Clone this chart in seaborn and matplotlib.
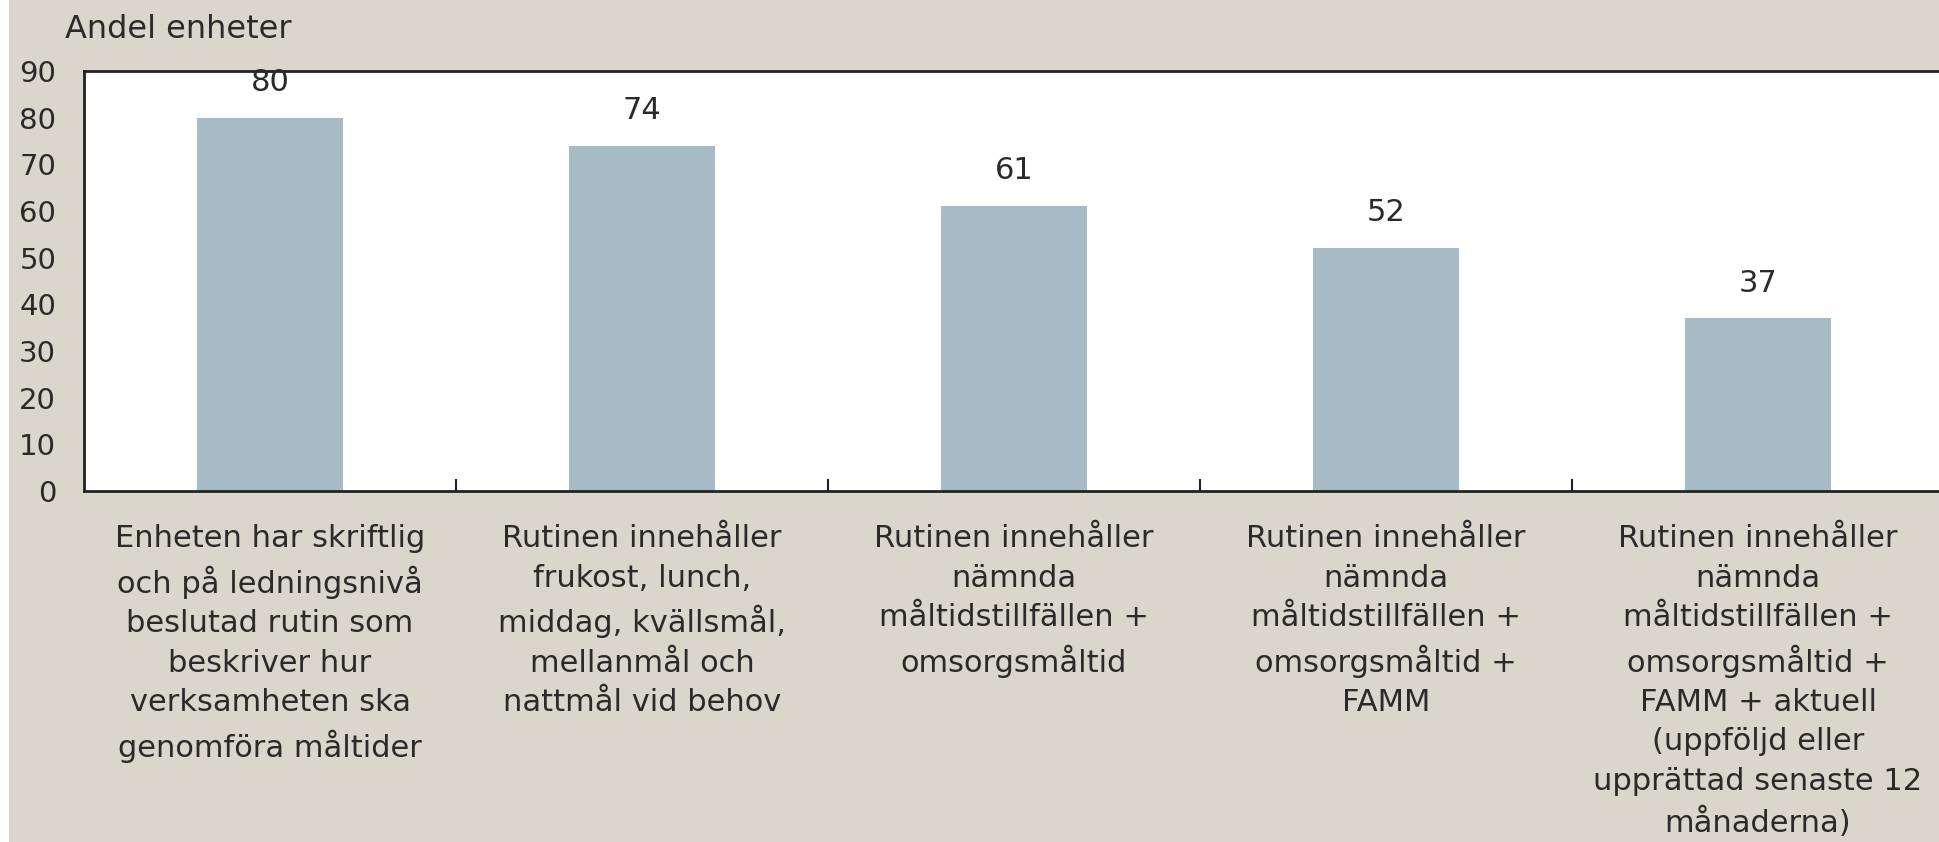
import matplotlib
matplotlib.use("Agg")
import matplotlib.pyplot as plt
import seaborn as sns
import pandas as pd
from matplotlib.patches import Rectangle
from matplotlib.ticker import FixedLocator

categories = [
    "Enheten har skriftlig\noch på ledningsnivå\nbeslutad rutin som\nbeskriver hur\nverksamheten ska\ngenomföra måltider",
    "Rutinen innehåller\nfrukost, lunch,\nmiddag, kvällsmål,\nmellanmål och\nnattmål vid behov",
    "Rutinen innehåller\nnämnda\nmåltidstillfällen +\nomsorgsmåltid",
    "Rutinen innehåller\nnämnda\nmåltidstillfällen +\nomsorgsmåltid +\nFAMM",
    "Rutinen innehåller\nnämnda\nmåltidstillfällen +\nomsorgsmåltid +\nFAMM + aktuell\n(uppföljd eller\nupprättad senaste 12\nmånaderna)",
]
values = [80, 74, 61, 52, 37]
y_ticks = [0, 10, 20, 30, 40, 50, 60, 70, 80, 90]
y_label = "Andel enheter"

BG = "#D9D7CB"
BAR = "#A7BBC6"
TXT = "#2a2a2a"
FS = 22

sns.set_theme(style="white")
plt.rcParams["font.family"] = ["DejaVu Sans"]

W, H = 1940, 842
fig = plt.figure(figsize=(W / 100, H / 100), dpi=100)
fig.patch.set_facecolor(BG)
fig.patches.append(Rectangle((0, 0), 9 / W, 1, transform=fig.transFigure,
                             facecolor="white", edgecolor="none", zorder=0))

left, right, top, bottom = 84, 1944, 71, 491
ax = fig.add_axes([left / W, 1 - bottom / H, (right - left) / W, (bottom - top) / H])
ax.set_facecolor("white")

df = pd.DataFrame({"cat": categories, "val": values})
sns.barplot(data=df, x="cat", y="val", color=BAR, width=0.39, saturation=1,
            ax=ax, edgecolor="none")

ax.set_xlim(-0.5, 4.5)
ax.set_ylim(0, 90)
ax.set_yticks(y_ticks)
ax.set_yticklabels([str(t) for t in y_ticks], fontsize=21, color=TXT)
ax.tick_params(axis="y", length=0, pad=20)

ax.set_xticks(range(len(categories)))
ax.set_xticklabels(categories, fontsize=FS, color=TXT, linespacing=1.45, va="top")
ax.tick_params(axis="x", which="major", length=0, pad=24)
ax.xaxis.set_minor_locator(FixedLocator([0.5, 1.5, 2.5, 3.5]))
ax.tick_params(axis="x", which="minor", direction="in", length=9, width=1.5,
               color="#222222", bottom=True)
ax.set_xlabel("")
ax.set_ylabel("")

for s in ["left", "top", "bottom"]:
    ax.spines[s].set_visible(True)
    ax.spines[s].set_color("#222222")
    ax.spines[s].set_linewidth(2)
ax.spines["right"].set_visible(False)

for i, v in enumerate(values):
    ax.annotate(str(v), (i, v), xytext=(0, 15), textcoords="offset points",
                ha="center", va="bottom", fontsize=FS, color=TXT)

fig.text(65 / W, 1 - 29 / H, y_label, fontsize=23, color=TXT, ha="left", va="center")

fig.savefig("out.png", dpi=100, facecolor=fig.get_facecolor())
